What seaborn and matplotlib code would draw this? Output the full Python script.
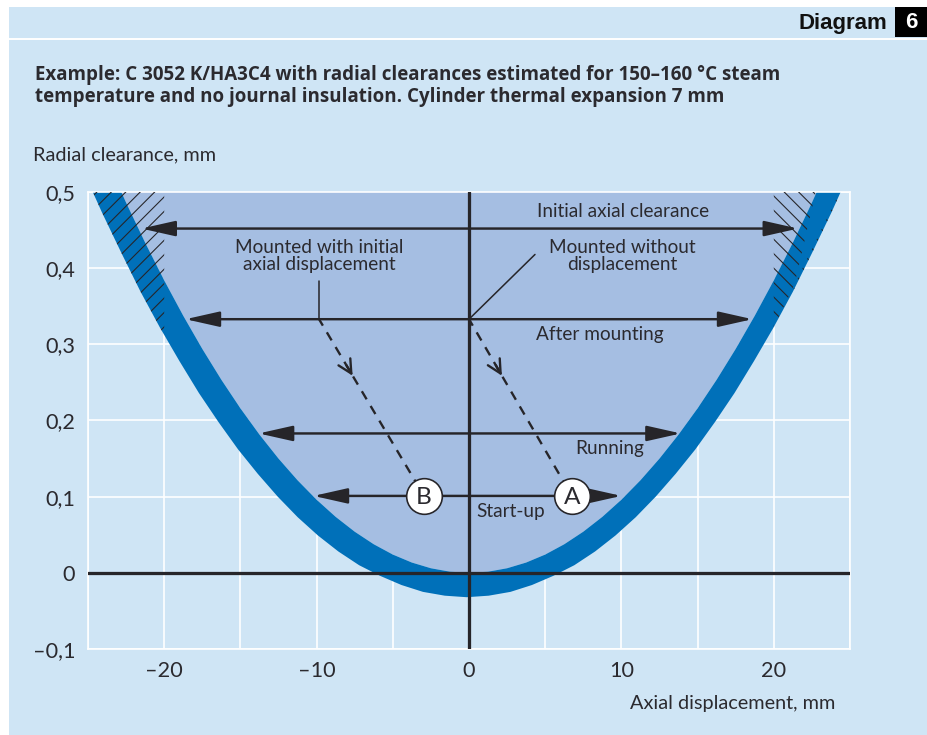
import numpy as np
import matplotlib
matplotlib.use("Agg")
import matplotlib.pyplot as plt
from matplotlib.patches import Rectangle
from matplotlib.lines import Line2D
import seaborn as sns

# ---------------- data ----------------
# inner edge of the clearance band: axial displacement (mm) vs radial clearance (mm)
INNER_X = [-25, -23.75, -22.5, -21.25, -20, -18.75, -17.5, -16.25, -15, -13.75, -12.5,
           -11.25, -10, -8.75, -7.5, -6.25, -5, -3.75, -2.5, -1.25, 0,
           1.25, 2.5, 3.75, 5, 6.25, 7.5, 8.75, 10, 11.25, 12.5,
           13.75, 15, 16.25, 17.5, 18.75, 20, 21.25, 22.5, 23.75, 25]
INNER_Y = [0.600, 0.5415, 0.486, 0.4335, 0.384, 0.3375, 0.294, 0.2535, 0.216, 0.1815, 0.150,
           0.1215, 0.096, 0.0735, 0.054, 0.0375, 0.024, 0.0135, 0.006, 0.0015, 0.0,
           0.0015, 0.006, 0.0135, 0.024, 0.0375, 0.054, 0.0735, 0.096, 0.1215, 0.150,
           0.1815, 0.216, 0.2535, 0.294, 0.3375, 0.384, 0.4335, 0.486, 0.5415, 0.600]
# outer edge of the band
OUTER_X = [-25.34, -24.08, -22.81, -21.55, -20.28, -19.00, -17.72, -16.44, -15.15, -13.86,
           -12.55, -11.24, -9.91, -8.57, -7.21, -5.83, -4.43, -3.02, -1.59, -0.15,
           1.29, 2.72, 4.13, 5.53, 6.91, 8.27, 9.61, 10.94, 12.25, 13.56,
           14.85, 16.14, 17.42, 18.70, 19.98, 21.25, 22.51, 23.78, 25.04]
OUTER_Y = [0.529, 0.473, 0.420, 0.369, 0.322, 0.278, 0.236, 0.198, 0.162, 0.130,
           0.100, 0.073, 0.049, 0.028, 0.010, -0.004, -0.016, -0.025, -0.030, -0.032,
           -0.030, -0.025, -0.016, -0.004, 0.010, 0.028, 0.049, 0.073, 0.100, 0.130,
           0.162, 0.198, 0.236, 0.278, 0.322, 0.369, 0.420, 0.473, 0.529]
HATCH_FROM = 20  # hatched beyond +-20 mm

ARROW_LABELS = ["Initial axial clearance", "After mounting", "Running", "Start-up"]
ARROW_Y = [0.452, 0.333, 0.183, 0.101]
ARROW_LEFT = [-21.5, -18.6, -13.8, -10.2]
ARROW_RIGHT = [21.6, 18.6, 13.9, 10.0]
LABEL_X = [10.1, 8.6, 9.2, 2.75]
LABEL_Y = [0.475, 0.313, 0.163, 0.080]

POINT_NAMES = ["B", "A"]
POINT_X = [-2.95, 6.75]
POINT_Y = [0.101, 0.101]
START_X = [-9.84, 0.0]
START_Y = [0.333, 0.333]
MOUNT_LABELS = ["Mounted with initial\naxial displacement", "Mounted without\ndisplacement"]
MOUNT_X = [-9.84, 10.05]
MOUNT_Y = [0.4165, 0.4165]
LEADER_X = [-9.84, 4.33]
LEADER_Y = [0.383, 0.418]

X_TICKS = [-20, -10, 0, 10, 20]
X_TICKLABELS = ["\u201320", "\u201310", "0", "10", "20"]
X_GRID_MINOR = [-25, -15, -5, 5, 15, 25]
Y_TICKS = [-0.1, 0, 0.1, 0.2, 0.3, 0.4, 0.5]
Y_TICKLABELS = ["\u20130,1", "0", "0,1", "0,2", "0,3", "0,4", "0,5"]

TITLE = ("Example: C 3052 K/HA3C4 with radial clearances estimated for 150\u2013160 \u00b0C steam\n"
         "temperature and no journal insulation. Cylinder thermal expansion 7 mm")

# ---------------- style ----------------
W, H, DPI = 927, 735, 130
BG = "#cfe5f5"
INNER_C = "#a5bee2"
BAND_C = "#0070b9"
DARK = "#262529"
TXT = "#2b2a2f"
BODY = ["Lato", "DejaVu Sans"]

sns.set_theme(style="whitegrid", rc={"axes.facecolor": BG, "grid.color": "white",
                                     "axes.edgecolor": "white"})
plt.rcParams["font.family"] = BODY
plt.rcParams["hatch.linewidth"] = 0.6
plt.rcParams["hatch.color"] = DARK

fig = plt.figure(figsize=(W / DPI, H / DPI), dpi=DPI, facecolor="white")
fig.patches.append(Rectangle((9 / W, 0), 1 - 9 / W, 1 - 7 / H, transform=fig.transFigure,
                             facecolor=BG, edgecolor="none", zorder=-2))
fig.lines.append(Line2D([9 / W, 1], [1 - 39 / H] * 2, transform=fig.transFigure,
                        color="white", lw=1.1, zorder=-1))
fig.patches.append(Rectangle((895 / W, 1 - 37 / H), 32 / W, 30 / H, transform=fig.transFigure,
                             facecolor="black", edgecolor="none", zorder=1))
fig.text(887 / W, 1 - 23 / H, "Diagram", ha="right", va="center", fontsize=12.3,
         weight="bold", family="Liberation Sans", color="#111111")
fig.text(911 / W, 1 - 23 / H, "6", ha="center", va="center", fontsize=12.3,
         weight="bold", family="Liberation Sans", color="white", zorder=2)
fig.text(35 / W, 1 - 86 / H, TITLE, ha="left", va="center", fontsize=10.4, weight="bold",
         family=["Open Sans", "DejaVu Sans"], color=TXT, linespacing=1.15)
fig.text(33 / W, 1 - 155 / H, "Radial clearance, mm", ha="left", va="center",
         fontsize=11, color=TXT)
fig.text(835 / W, 1 - 703 / H, "Axial displacement, mm", ha="right", va="center",
         fontsize=11, color=TXT)

ax = fig.add_axes([88 / W, 86 / H, 762 / W, 457 / H])
ax.set_axisbelow(True)
ax.set_xlim(-25, 25)
ax.set_ylim(-0.1, 0.5)
ax.set_xticks(X_TICKS)
ax.set_xticklabels(X_TICKLABELS)
ax.set_xticks(X_GRID_MINOR, minor=True)
ax.set_yticks(Y_TICKS)
ax.set_yticklabels(Y_TICKLABELS)
ax.grid(which="both", axis="x", color="white", lw=0.9)
ax.grid(which="major", axis="y", color="white", lw=0.9)
ax.tick_params(which="both", length=0, labelsize=12, labelcolor=TXT)
ax.tick_params(axis="y", pad=7)
ax.tick_params(axis="x", pad=6.5)
for s in ax.spines.values():
    s.set_color("white")
    s.set_linewidth(0.9)

ix, iy = np.array(INNER_X), np.array(INNER_Y)
ox, oy = np.array(OUTER_X), np.array(OUTER_Y)
ax.fill(ix, iy, facecolor=INNER_C, edgecolor="none", zorder=1)
ax.fill(np.r_[ox, ix[::-1]], np.r_[oy, iy[::-1]], facecolor=BAND_C, edgecolor="none", zorder=2)

# hatched zones beyond +-20 mm
top = 0.7
for side, hatch in ((-1, "///"), (1, "\\\\\\")):
    sel = ox * side >= HATCH_FROM
    edge_y = np.interp(side * HATCH_FROM, ox, oy)
    hx = np.r_[ox[sel], side * HATCH_FROM, side * HATCH_FROM]
    hy = np.r_[oy[sel], edge_y, top]
    if side < 0:
        hx = np.r_[ox[sel][0], hx]
        hy = np.r_[top, hy]
    else:
        hx = np.r_[hx, ox[sel][-1]]
        hy = np.r_[hy, top]
    ax.fill(hx, hy, facecolor="none", edgecolor=DARK, hatch=hatch, lw=0, zorder=3)

ax.axhline(0, color=DARK, lw=1.8, zorder=4)
ax.axvline(0, color=DARK, lw=1.8, zorder=4)

for lab, y, xl, xr, tx, ty in zip(ARROW_LABELS, ARROW_Y, ARROW_LEFT, ARROW_RIGHT, LABEL_X, LABEL_Y):
    ax.annotate("", xy=(xr, y), xytext=(xl, y),
                arrowprops=dict(arrowstyle="<|-|>,head_length=1.6,head_width=0.36",
                                color=DARK, lw=1.35, shrinkA=0, shrinkB=0, mutation_scale=10),
                zorder=5)
    ax.text(tx, ty, lab, ha="center", va="center", fontsize=10.5, color=TXT, zorder=7)

for lab, mx, my in zip(MOUNT_LABELS, MOUNT_X, MOUNT_Y):
    ax.text(mx, my, lab, ha="center", va="center", fontsize=10.5, color=TXT,
            linespacing=1.0, zorder=7)

for sx, sy, lx, ly, px, py in zip(START_X, START_Y, LEADER_X, LEADER_Y, POINT_X, POINT_Y):
    ax.plot([sx, lx], [sy, ly], color=DARK, lw=0.85, zorder=5)
    ax.plot([sx, px], [sy, py], color=DARK, lw=1.3, ls=(0.8, (4, 3.3)), zorder=5)
    cx, cy = sx + 0.32 * (px - sx), sy + 0.32 * (py - sy)
    bx, by = sx + 0.26 * (px - sx), sy + 0.26 * (py - sy)
    ax.annotate("", xy=(cx, cy), xytext=(bx, by),
                arrowprops=dict(arrowstyle="->,head_length=0.75,head_width=0.38",
                                color=DARK, lw=1.3, shrinkA=0, shrinkB=0, mutation_scale=10),
                zorder=5)

sns.scatterplot(x=POINT_X, y=POINT_Y, s=390, color="white", edgecolor=DARK, linewidth=0.9,
                zorder=6, ax=ax, legend=False)
for name, px, py in zip(POINT_NAMES, POINT_X, POINT_Y):
    ax.text(px, py - 0.002, name, ha="center", va="center", fontsize=13.5, color=TXT, zorder=7)

ax.set_xlabel("")
ax.set_ylabel("")
fig.savefig("out.png", dpi=DPI, facecolor="white")
